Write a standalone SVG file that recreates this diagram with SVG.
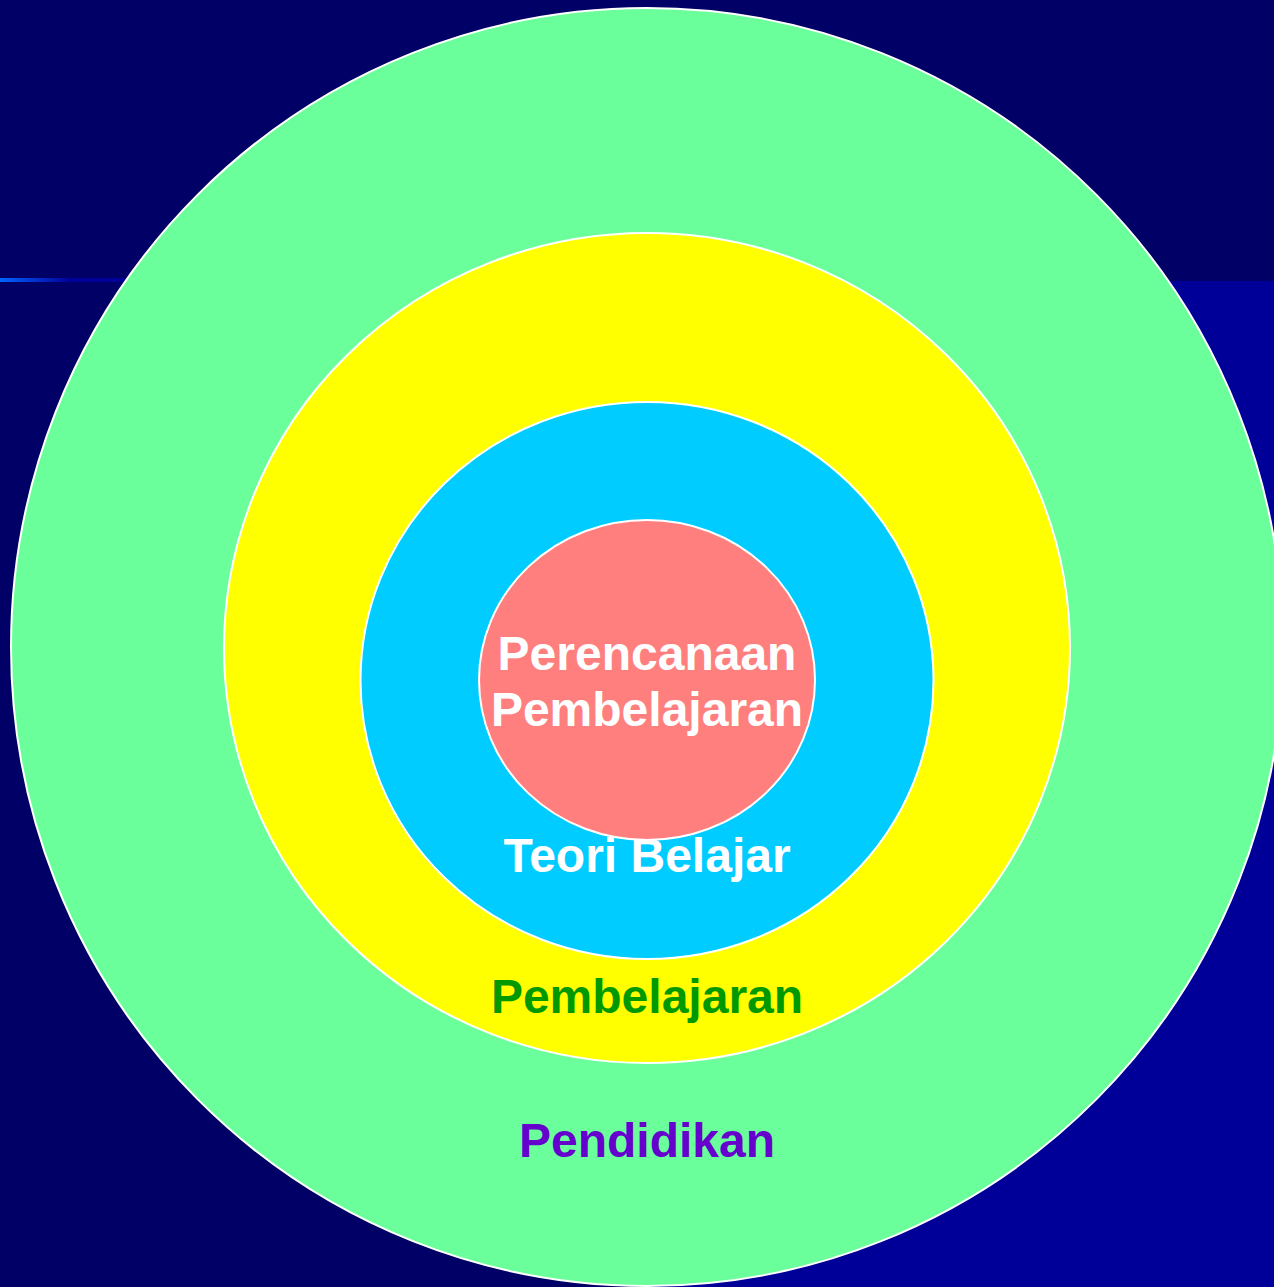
<svg xmlns="http://www.w3.org/2000/svg" width="1274" height="1287" viewBox="0 0 1274 1287">
<defs>
<linearGradient id="lineGrad" x1="0" y1="0" x2="1" y2="0">
<stop offset="0" stop-color="#0066FF"/>
<stop offset="0.5" stop-color="#000099"/>
<stop offset="1" stop-color="#000099"/>
</linearGradient>
<style>
.ring{stroke:#FFFFFF;stroke-width:2}
.lbl{font-family:"Liberation Sans",Arial,sans-serif;font-weight:bold;font-size:48px;text-anchor:middle}
</style>
</defs>
<rect x="0" y="0" width="1274" height="1287" fill="#000066"/>
<rect x="650" y="281" width="624" height="1006" fill="#000099"/>
<rect x="0" y="278" width="140" height="4" fill="url(#lineGrad)"/>
<g id="pendidikan">
<ellipse class="ring" cx="647" cy="647" rx="636" ry="639" fill="#6BFF9C"/>
<text class="lbl" x="647" y="1157" fill="#6600CC">Pendidikan</text>
</g>
<g id="pembelajaran">
<ellipse class="ring" cx="647" cy="648" rx="423" ry="415" fill="#FFFF00"/>
<text class="lbl" x="647" y="1013" fill="#009900">Pembelajaran</text>
</g>
<g id="teori-belajar">
<ellipse class="ring" cx="647" cy="680.5" rx="286.5" ry="278.5" fill="#00CCFF"/>
<text class="lbl" x="647" y="872" fill="#FFFFFF">Teori Belajar</text>
</g>
<g id="perencanaan-pembelajaran">
<ellipse class="ring" cx="647" cy="680" rx="168" ry="160" fill="#FF7F7F"/>
<text class="lbl" x="647" y="670" fill="#FFFFFF">Perencanaan</text>
<text class="lbl" x="647" y="726" fill="#FFFFFF">Pembelajaran</text>
</g>
<g id="connectors"/>
</svg>
